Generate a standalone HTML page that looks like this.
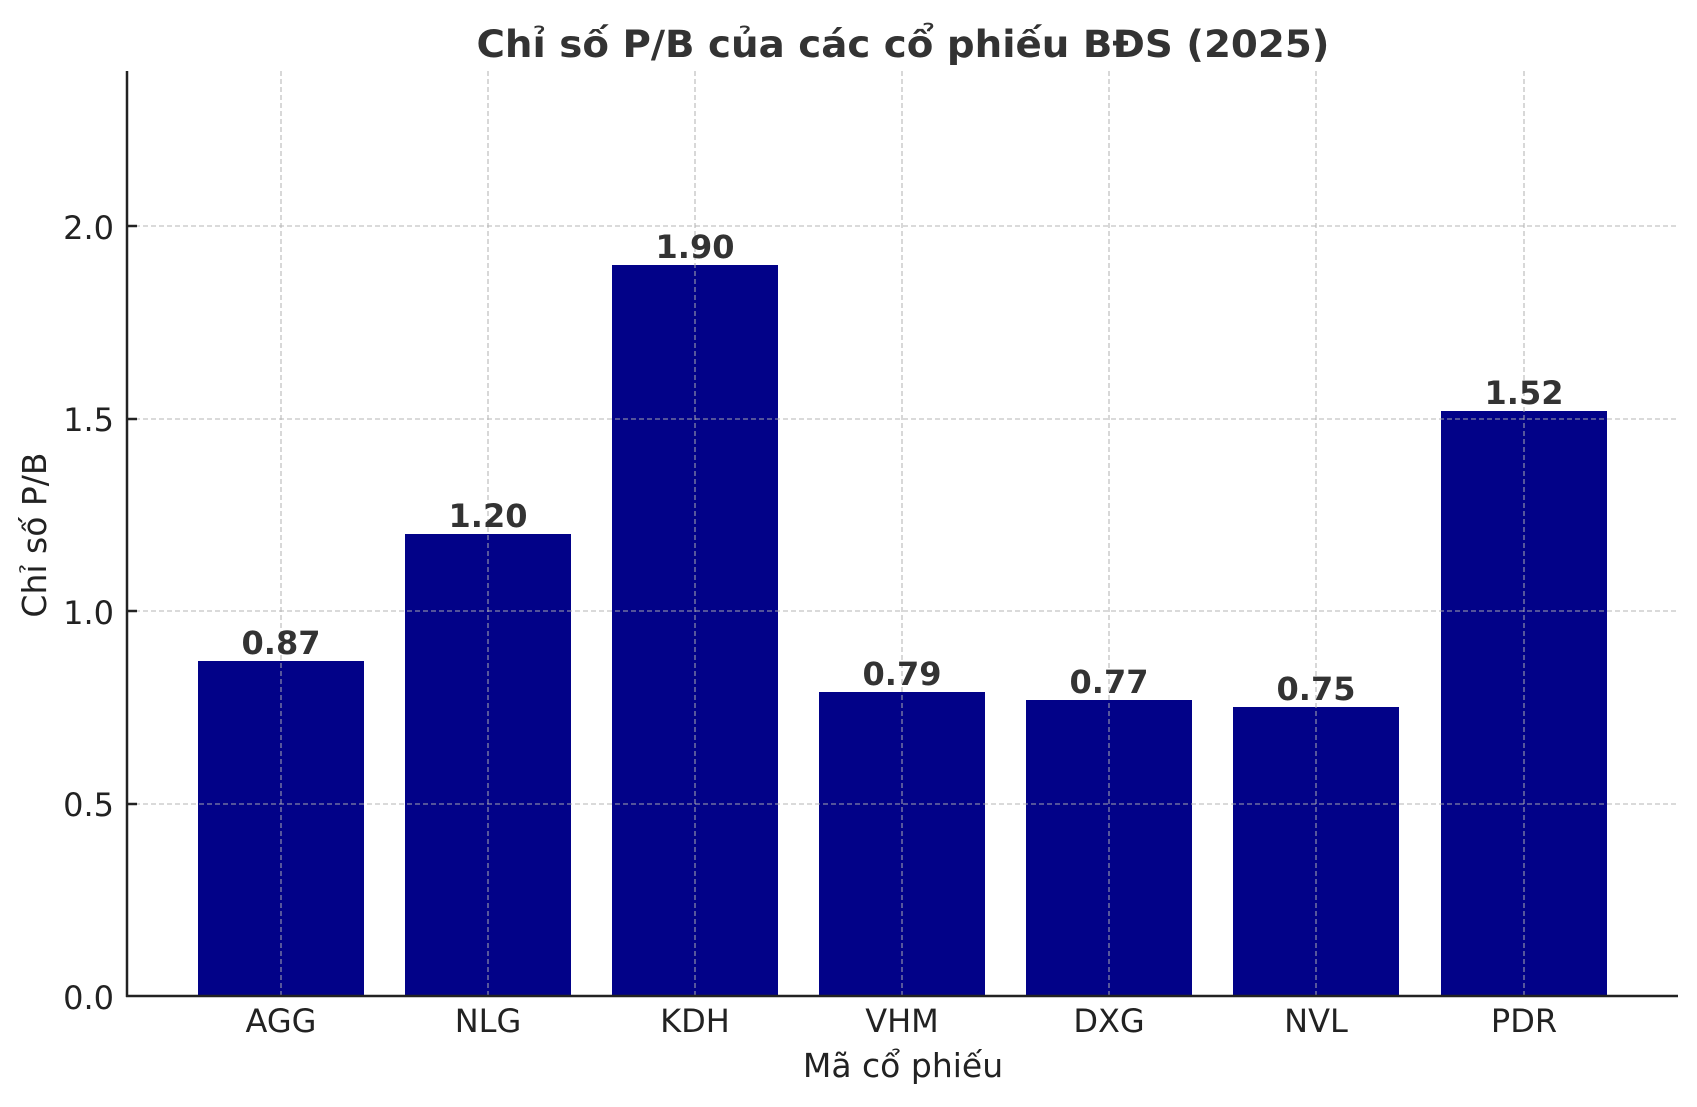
<!DOCTYPE html>
<html><head><meta charset="utf-8"><style>html,body{margin:0;padding:0;background:#fff}svg{display:block}</style></head>
<body>
<svg width="1697" height="1107" viewBox="0 0 1697 1107" xmlns="http://www.w3.org/2000/svg" font-family="DejaVu Sans, Liberation Sans, sans-serif">
<rect width="1697" height="1107" fill="#fff"/>
<g fill="#020288">
<rect x="198" y="661" width="166" height="335"/>
<rect x="405" y="534" width="166" height="462"/>
<rect x="612" y="265" width="166" height="731"/>
<rect x="819" y="692" width="166" height="304"/>
<rect x="1026" y="700" width="166" height="296"/>
<rect x="1233" y="707" width="166" height="289"/>
<rect x="1441" y="411" width="166" height="585"/>
</g>
<g stroke="#b0b0b0" stroke-opacity="0.75" stroke-width="1.3" stroke-dasharray="5,3">
<line x1="281" y1="71" x2="281" y2="996"/>
<line x1="488" y1="71" x2="488" y2="996"/>
<line x1="695" y1="71" x2="695" y2="996"/>
<line x1="902" y1="71" x2="902" y2="996"/>
<line x1="1109" y1="71" x2="1109" y2="996"/>
<line x1="1316" y1="71" x2="1316" y2="996"/>
<line x1="1524" y1="71" x2="1524" y2="996"/>
<line x1="127" y1="804" x2="1678" y2="804"/>
<line x1="127" y1="611" x2="1678" y2="611"/>
<line x1="127" y1="419" x2="1678" y2="419"/>
<line x1="127" y1="226" x2="1678" y2="226"/>
</g>
<g stroke="#222" stroke-width="2.5">
<line x1="127" y1="71" x2="127" y2="997"/>
<line x1="126" y1="996" x2="1678" y2="996"/>
<line x1="127" y1="804" x2="137" y2="804"/>
<line x1="127" y1="611" x2="137" y2="611"/>
<line x1="127" y1="419" x2="137" y2="419"/>
<line x1="127" y1="226" x2="137" y2="226"/>
</g>
<g font-size="32" fill="#222" text-anchor="end">
<text x="114" y="1009">0.0</text>
<text x="114" y="816">0.5</text>
<text x="114" y="624">1.0</text>
<text x="114" y="431">1.5</text>
<text x="114" y="239">2.0</text>
</g>
<g font-size="32" fill="#222" text-anchor="middle">
<text x="281" y="1032">AGG</text>
<text x="488" y="1032">NLG</text>
<text x="695" y="1032">KDH</text>
<text x="902" y="1032">VHM</text>
<text x="1109" y="1032">DXG</text>
<text x="1316" y="1032">NVL</text>
<text x="1524" y="1032">PDR</text>
</g>
<g font-size="32" font-weight="bold" fill="#333" text-anchor="middle">
<text x="281" y="654">0.87</text>
<text x="488" y="527">1.20</text>
<text x="695" y="258">1.90</text>
<text x="902" y="685">0.79</text>
<text x="1109" y="693">0.77</text>
<text x="1316" y="700">0.75</text>
<text x="1524" y="404">1.52</text>
</g>
<text x="903" y="1077" font-size="33" fill="#222" text-anchor="middle">Mã cổ phiếu</text>
<text transform="translate(46,535) rotate(-90)" font-size="33" fill="#222" text-anchor="middle">Chỉ số P/B</text>
<text x="903" y="57" font-size="37" font-weight="bold" fill="#333" text-anchor="middle" textLength="853" lengthAdjust="spacingAndGlyphs">Chỉ số P/B của các cổ phiếu BĐS (2025)</text>
</svg>
</body></html>
